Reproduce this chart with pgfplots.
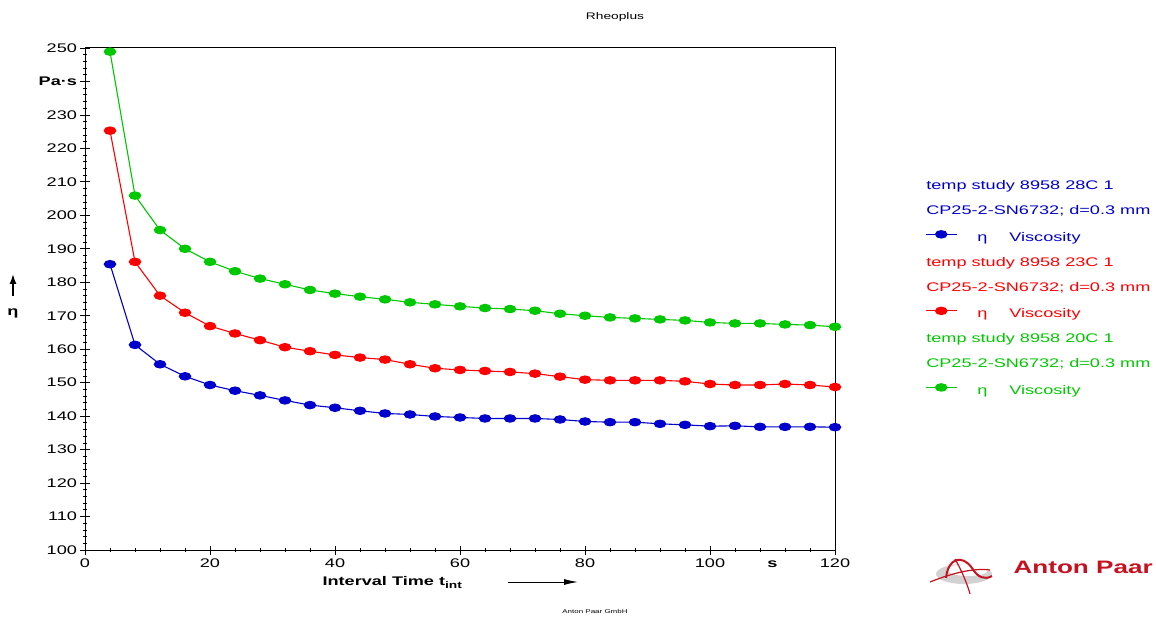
\documentclass[border=0pt]{standalone}
\usepackage{fontspec}
\setmainfont{Liberation Sans}[FakeStretch=1.45]
\usepackage{pgfplots}
\pgfplotsset{compat=1.18}
\usetikzlibrary{arrows.meta}

\definecolor{vblue}{RGB}{0,0,204}
\definecolor{vred}{RGB}{255,0,0}
\definecolor{vgreen}{RGB}{0,200,0}
\definecolor{apred}{RGB}{196,18,32}

\pgfplotstableread{
t     b28    r23    g20
4     185.4  225.3  248.9
8     161.3  186.1  205.9
12    155.5  176.0  195.6
16    151.9  170.9  190.0
20    149.3  166.9  186.1
24    147.6  164.7  183.3
28    146.2  162.7  181.1
32    144.7  160.6  179.4
36    143.3  159.4  177.7
40    142.5  158.3  176.6
44    141.6  157.5  175.7
48    140.8  156.9  174.9
52    140.5  155.5  174.0
56    139.9  154.3  173.4
60    139.6  153.8  172.8
64    139.3  153.5  172.3
68    139.3  153.2  172.0
72    139.3  152.7  171.5
76    139.0  151.8  170.6
80    138.4  150.9  170.0
84    138.2  150.7  169.5
88    138.2  150.7  169.2
92    137.7  150.7  168.9
96    137.4  150.4  168.6
100   137.0  149.6  168.0
104   137.1  149.3  167.7
108   136.8  149.3  167.7
112   136.8  149.6  167.4
116   136.8  149.3  167.2
120   136.7  148.7  166.7
}\viscdata

\newcommand{\lf}{\fontsize{12.5}{14}\selectfont}

\begin{document}
\begin{tikzpicture}[x=1pt,y=1pt]
\path[use as bounding box] (0,0) rectangle (1156,616);
\begin{axis}[
  at={(85pt,66pt)}, anchor=south west,
  scale only axis, width=750pt, height=502pt,
  xmin=0, xmax=120, ymin=100, ymax=250,
  xtick={0,20,...,120}, xticklabels={0,20,40,60,80,100,120},
  ytick={100,110,...,250},
  yticklabels={100,110,120,130,140,150,160,170,180,190,200,210,220,230,\textbf{Pa·s},250},
  extra x ticks={110}, extra x tick labels={\textbf{s}},
  extra x tick style={tick style={draw=none}},
  minor x tick num=4, minor y tick num=4,
  xtick pos=bottom, ytick pos=left,
  tick align=center, major tick length=9pt, minor tick length=4pt,
  tick style={black, line width=0.8pt},
  axis line style={line width=1pt},
  ticklabel style={font=\lf},
  xticklabel style={text height=9pt, text depth=0pt},
  clip=false,
  every axis plot/.append style={line width=1.1pt, mark=*, mark size=3.7pt},
  legend style={at={(1.1200,0.736)}, anchor=north west, draw=none, fill=none,
    inner sep=0pt, row sep=12.95pt,
    nodes={inner sep=0pt, text height=9pt, text depth=3pt, font=\lf},
    /tikz/every odd column/.append style={column sep=20pt}},
  legend cell align=left,
  legend image code/.code={\draw[#1, mark repeat=2, mark phase=2]
    plot coordinates {(0pt,4pt) (15.5pt,4pt) (31pt,4pt)};},
]
\addlegendimage{empty legend}
\addlegendentry[text=vblue]{\hspace*{-51pt}temp study 8958 28C 1}
\addlegendimage{empty legend}
\addlegendentry[text=vblue]{\hspace*{-51pt}CP25-2-SN6732; d=0.3 mm}
\addplot[vblue, mark options={fill=vblue, xscale=1.55}] table[x=t, y=b28] {\viscdata};
\addlegendentry[text=vblue]{η\hspace{22pt}Viscosity}

\addlegendimage{empty legend}
\addlegendentry[text=vred]{\hspace*{-51pt}temp study 8958 23C 1}
\addlegendimage{empty legend}
\addlegendentry[text=vred]{\hspace*{-51pt}CP25-2-SN6732; d=0.3 mm}
\addplot[vred, mark options={fill=vred, xscale=1.55}] table[x=t, y=r23] {\viscdata};
\addlegendentry[text=vred]{η\hspace{22pt}Viscosity}

\addlegendimage{empty legend}
\addlegendentry[text=vgreen]{\hspace*{-51pt}temp study 8958 20C 1}
\addlegendimage{empty legend}
\addlegendentry[text=vgreen]{\hspace*{-51pt}CP25-2-SN6732; d=0.3 mm}
\addplot[vgreen, mark options={fill=vgreen, xscale=1.55}] table[x=t, y=g20] {\viscdata};
\addlegendentry[text=vgreen]{η\hspace{22pt}Viscosity}
\end{axis}

% title and axis labels
\node[font=\fontsize{9.5}{11}\selectfont] at (615,599) {Rheoplus};
\draw[line width=1.5pt, -{Latex[length=10pt,width=7pt]}] (13,320) -- (13,342);
\node[font=\lf\bfseries] at (13,303) {η};
\node[font=\lf\bfseries, anchor=base west] at (319,31) {Interval Time t\raisebox{-3.5pt}{\fontsize{9.5}{10}\selectfont int}};
\draw[line width=1pt, -{Latex[length=14pt,width=6pt]}] (508,34) -- (578,34);
\node[font=\fontsize{5.5}{6}\selectfont] at (595,4) {Anton Paar GmbH};

% Anton Paar logo
\fill[gray!35] (964,42) ellipse (28pt and 10pt);
\fill[white] (968,46) ellipse (20pt and 6pt);
\draw[apred, line width=2pt] (946,38) .. controls (948,58) and (962,62) .. (972,48)
  .. controls (978,38) and (985,36) .. (992,40);
\draw[apred, line width=1.2pt] (930,34) .. controls (955,44) and (975,48) .. (990,46);
\draw[apred, line width=1.2pt] (955,57) .. controls (962,45) and (968,30) .. (970,22);
\node[font=\fontsize{18}{20}\selectfont\bfseries, text=apred, anchor=west] at (1010,49) {Anton Paar};
\end{tikzpicture}
\end{document}
